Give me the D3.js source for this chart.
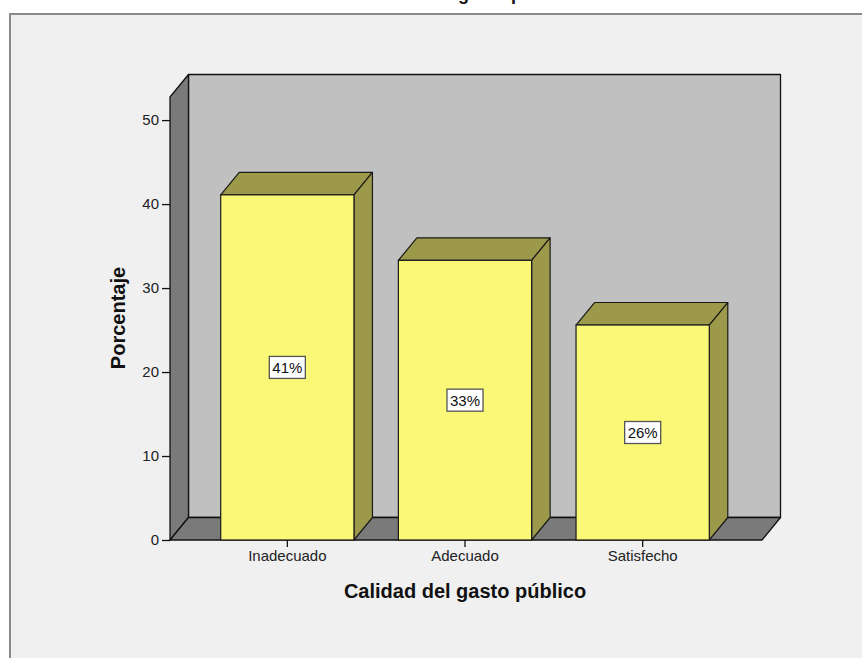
<!DOCTYPE html>
<html>
<head>
<meta charset="utf-8">
<script src="https://cdn.jsdelivr.net/npm/d3@7"></script>
<style>
  html, body { margin: 0; padding: 0; background: #ffffff; }
  svg { display: block; }
  text { font-family: "Liberation Sans", Arial, sans-serif; }
</style>
</head>
<body>
<script>
// ---- data ----
const categories = ["Inadecuado", "Adecuado", "Satisfecho"];
const percentages = [41.1, 33.3, 25.6];
const barLabels = ["41%", "33%", "26%"];
const yTicks = [0, 10, 20, 30, 40, 50];
const xTitle = "Calidad del gasto público";
const yTitle = "Porcentaje";
const chartTitle = "Calidad del gasto público";

(function () {
const W = 862, H = 658;
const svg = d3.select("body").append("svg").attr("width", W).attr("height", H);

// outer frame
svg.append("rect").attr("x", 10).attr("y", 14).attr("width", W + 20).attr("height", H + 20)
  .attr("fill", "#f0f0f0").attr("stroke", "#8a8a8a").attr("stroke-width", 2);

// cropped title (only descenders visible, as in the reference)
svg.append("text").attr("x", 466).attr("y", 0).attr("text-anchor", "middle")
  .attr("font-size", 18).attr("font-weight", "bold").attr("fill", "#111").text(chartTitle);

// geometry
const x0 = 170, x1 = 762;     // floor front extent
const dx = 18.5, dy = -22.5;  // 3D depth offset
const y = d3.scaleLinear().domain([0, 52.75]).range([540, 97]);
const x = d3.scaleBand().domain(categories).range([198.5, 731.5]).paddingInner(0.25).paddingOuter(0.125);

const base = y(0), topY = y(52.75);
const line = d3.line();
const poly = (pts) => line(pts) + "Z";

// back wall
svg.append("path").attr("d", poly([[x0 + dx, topY + dy], [x1 + dx, topY + dy], [x1 + dx, base + dy], [x0 + dx, base + dy]]))
  .attr("fill", "#c0c0c0").attr("stroke", "#111").attr("stroke-width", 1.3).attr("stroke-linejoin", "round");
// side wall
svg.append("path").attr("d", poly([[x0, base], [x0, topY], [x0 + dx, topY + dy], [x0 + dx, base + dy]]))
  .attr("fill", "#7a7a7a").attr("stroke", "#111").attr("stroke-width", 1.3).attr("stroke-linejoin", "round");
// floor
svg.append("path").attr("d", poly([[x0, base], [x1, base], [x1 + dx, base + dy], [x0 + dx, base + dy]]))
  .attr("fill", "#7a7a7a").attr("stroke", "#111").attr("stroke-width", 1.3).attr("stroke-linejoin", "round");

// bars
const bars = svg.append("g");
categories.forEach((c, i) => {
  const bx0 = x(c), bx1 = x(c) + x.bandwidth();
  const yt = y(percentages[i]);
  const g = bars.append("g");
  g.append("path").attr("d", poly([[bx0, yt], [bx1, yt], [bx1 + dx, yt + dy], [bx0 + dx, yt + dy]]))
    .attr("fill", "#9c9a4a").attr("stroke", "#1a1a1a").attr("stroke-width", 1.2).attr("stroke-linejoin", "round");
  g.append("path").attr("d", poly([[bx1, yt], [bx1, base], [bx1 + dx, base + dy], [bx1 + dx, yt + dy]]))
    .attr("fill", "#9c9a4a").attr("stroke", "#1a1a1a").attr("stroke-width", 1.2).attr("stroke-linejoin", "round");
  g.append("rect").attr("x", bx0).attr("y", yt).attr("width", bx1 - bx0).attr("height", base - yt)
    .attr("fill", "#fbf777").attr("stroke", "#1a1a1a").attr("stroke-width", 1.2);
});

// value labels
categories.forEach((c, i) => {
  const cx = x(c) + x.bandwidth() / 2;
  const cy = (y(percentages[i]) + base) / 2;
  const t = svg.append("text").attr("x", cx).attr("y", cy + 5.5).attr("text-anchor", "middle")
    .attr("font-size", 15).attr("fill", "#111").text(barLabels[i]);
  const bb = t.node().getBBox();
  svg.insert("rect", () => t.node())
    .attr("x", bb.x - 3).attr("y", cy - 11).attr("width", bb.width + 6).attr("height", 22)
    .attr("fill", "#ffffff").attr("stroke", "#555").attr("stroke-width", 1.3);
});

// y axis ticks + labels
const yAxis = d3.axisLeft(y).tickValues(yTicks).tickSize(8).tickPadding(3);
const ya = svg.append("g").attr("transform", `translate(${x0},0)`).call(yAxis);
ya.select(".domain").remove();
ya.selectAll(".tick line").attr("stroke", "#111").attr("stroke-width", 1.3);
ya.selectAll(".tick text").attr("font-size", 15).attr("fill", "#222")
  .attr("font-family", "'Liberation Sans', Arial, sans-serif");

// x axis ticks + labels
const xAxis = d3.axisBottom(x).tickSize(7).tickPadding(3);
const xa = svg.append("g").attr("transform", `translate(0,${base})`).call(xAxis);
xa.select(".domain").remove();
xa.selectAll(".tick line").attr("stroke", "#111").attr("stroke-width", 1.3);
xa.selectAll(".tick text").attr("font-size", 15).attr("fill", "#222")
  .attr("font-family", "'Liberation Sans', Arial, sans-serif");

// axis titles
svg.append("text").attr("x", 465).attr("y", 598).attr("text-anchor", "middle")
  .attr("font-size", 20).attr("font-weight", "bold").attr("fill", "#111").text(xTitle);
svg.append("text").attr("transform", "translate(125,318) rotate(-90)").attr("text-anchor", "middle")
  .attr("font-size", 20).attr("font-weight", "bold").attr("fill", "#111").text(yTitle);
})();
</script>
</body>
</html>
